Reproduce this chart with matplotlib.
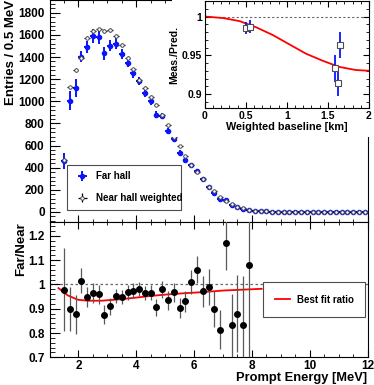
import numpy as np
import matplotlib
matplotlib.use('Agg')
import matplotlib.pyplot as plt
from matplotlib.patches import Rectangle
from matplotlib.ticker import MultipleLocator

plt.rcParams['font.family'] = ['Liberation Sans', 'DejaVu Sans']
plt.rcParams['font.weight'] = 'bold'
plt.rcParams['axes.labelweight'] = 'bold'
plt.rcParams['font.size'] = 8.5

# upper panel: prompt energy spectra (bin centres, MeV)
energy = np.round(np.arange(1.5, 12.0, 0.2), 2)
far = [459, 1005, 1122, 1403, 1493, 1590, 1578, 1433, 1500, 1518,
       1427, 1349, 1252, 1180, 1075, 1000, 878, 866, 730, 660,
       537, 470, 422, 372, 295, 226, 175, 118, 104, 63,
       42, 27, 16, 9, 7, 5, 4, 4, 3, 3,
       3, 4, 3, 3, 3, 3, 3, 3, 3, 3, 3, 3, 3]
far_err = [75, 85, 80, 50, 55, 60, 65, 60, 50, 50,
           45, 40, 38, 35, 35, 33, 30, 30, 28, 27,
           25, 23, 22, 20, 18, 16, 14, 12, 11, 9,
           8, 6, 5, 4, 4, 3, 3, 3, 3, 3,
           3, 3, 3, 3, 3, 3, 3, 3, 3, 3, 3, 3, 3]
near = [470, 1125, 1282, 1394, 1575, 1638, 1650, 1635, 1644, 1593,
        1508, 1394, 1291, 1192, 1124, 1041, 968, 875, 782, 675,
        597, 505, 423, 360, 300, 228, 188, 136, 96, 70,
        46, 32, 15, 9, 7, 5, 4, 4, 3, 3,
        3, 4, 3, 3, 3, 3, 3, 3, 3, 3, 3, 3, 3]
near_err = [10, 14, 15, 15, 16, 16, 16, 16, 16, 16,
            15, 15, 14, 14, 13, 13, 12, 12, 11, 10,
            10, 9, 8, 8, 7, 6, 6, 5, 4, 4,
            3, 3, 2, 2, 2, 1, 1, 1, 1, 1,
            1, 1, 1, 1, 1, 1, 1, 1, 1, 1, 1, 1, 1]

# lower panel: far / near ratio
ratio_e = np.round(np.arange(1.5, 8.0, 0.2), 2)
ratio = [0.978, 0.898, 0.877, 1.016, 0.948, 0.964, 0.959, 0.876, 0.910, 0.952,
         0.948, 0.968, 0.974, 0.982, 0.964, 0.966, 0.907, 0.981, 0.934, 0.967,
         0.903, 0.930, 1.009, 1.061, 0.971, 0.989, 0.900, 0.814, 1.170, 0.831,
         0.880, 0.835, 1.080]
ratio_err = [0.17, 0.09, 0.08, 0.05, 0.04, 0.04, 0.04, 0.04, 0.035, 0.03,
             0.03, 0.03, 0.03, 0.03, 0.03, 0.03, 0.035, 0.035, 0.04, 0.04,
             0.04, 0.045, 0.05, 0.055, 0.065, 0.075, 0.075, 0.08, 0.11, 0.13,
             0.16, 0.2, 0.4]
fit_e = [1.31, 1.63, 1.98, 2.32, 2.79, 3.36, 3.94, 4.52, 5.10, 5.68, 6.25, 7.02, 8.34]
fit_r = [0.985, 0.955, 0.937, 0.933, 0.933, 0.938, 0.945, 0.953, 0.959, 0.964, 0.968, 0.975, 0.982]

# inset: measured / predicted vs baseline
base = [0.50, 0.556, 1.585, 1.617, 1.649]
meas = [0.985, 0.987, 0.933, 0.914, 0.963]
meas_err = [0.008, 0.008, 0.017, 0.017, 0.017]
curve_l = [0.0, 0.226, 0.427, 0.629, 0.831, 1.032, 1.234, 1.435, 1.637, 1.839, 2.0]
curve_v = [1.0, 0.998, 0.994, 0.986, 0.976, 0.964, 0.952, 0.943, 0.935, 0.931, 0.930]

blue = '#0a14ff'
fig = plt.figure(figsize=(3.74, 3.85), dpi=100)
ax1 = fig.add_axes([0.1324, 0.4221, 0.8503, 0.5779], zorder=0)
ax2 = fig.add_axes([0.1324, 0.0719, 0.8503, 0.3502], zorder=0)
axin = fig.add_axes([0.5473, 0.7195, 0.4393, 0.2779], zorder=2)
fig.add_artist(Rectangle((0.46, 0.644), 0.54, 0.356, transform=fig.transFigure,
                         facecolor='white', edgecolor='none', zorder=1))

# upper
ax1.errorbar(energy, far, yerr=far_err, xerr=0.1, fmt='o', color=blue, ms=3,
             elinewidth=1.4, capsize=0, label='Far hall', zorder=3)
ax1.errorbar(energy, near, yerr=near_err, xerr=0.1, fmt='o', color='black', ms=2.5,
             mfc='white', mec='0.3', mew=0.7, elinewidth=0.9, capsize=0,
             label='Near hall weighted', zorder=4)
ax1.set_xlim(1.0, 12)
ax1.set_ylim(-95, 1915)
ax1.yaxis.set_major_locator(MultipleLocator(200))
ax1.yaxis.set_minor_locator(MultipleLocator(40))
ax1.xaxis.set_major_locator(MultipleLocator(2))
ax1.xaxis.set_minor_locator(MultipleLocator(0.5))
ax1.tick_params(axis='x', labelbottom=False)
ax1.set_ylabel('Entries / 0.5 MeV', loc='top', fontsize=9.5, labelpad=1)
leg1 = ax1.legend(loc='upper left', bbox_to_anchor=(66.7 / 374, 1 - 164.5 / 385, 114 / 374, 0),
                  bbox_transform=fig.transFigure, mode='expand', fancybox=False,
                  edgecolor='0.3', framealpha=1, borderpad=0.7, labelspacing=1.2,
                  handlelength=1.85, handletextpad=0.5, borderaxespad=0, fontsize=7)
leg1.get_frame().set_linewidth(0.8)

# lower
ax2.axhline(1.0, color='0.4', lw=0.9, ls=(0, (2, 2)), zorder=1)
ax2.errorbar(ratio_e, ratio, yerr=ratio_err, fmt='o', color='black', ms=4,
             ecolor='0.35', elinewidth=0.9, capsize=0, zorder=3)
ax2.plot(fit_e, fit_r, color='red', lw=1.3, label='Best fit ratio', zorder=2)
ax2.set_xlim(1.0, 12)
ax2.set_ylim(0.7, 1.255)
ax2.xaxis.set_major_locator(MultipleLocator(2))
ax2.xaxis.set_minor_locator(MultipleLocator(0.5))
ax2.yaxis.set_minor_locator(MultipleLocator(0.02))
ax2.set_yticks([0.7, 0.8, 0.9, 1.0, 1.1, 1.2], ['0.7', '0.8', '0.9', '1', '1.1', '1.2'])
ax2.set_xlabel('Prompt Energy [MeV]', loc='right', fontsize=9.3, labelpad=0)
ax2.set_ylabel('Far/Near', loc='top', fontsize=9.5, labelpad=1)
leg2 = ax2.legend(loc='upper left', bbox_to_anchor=(262.7 / 374, 1 - 282 / 385, 102.5 / 374, 0),
                  bbox_transform=fig.transFigure, mode='expand', fancybox=False,
                  edgecolor='0.3', framealpha=1, borderpad=1.3,
                  handlelength=1.5, handletextpad=0.7, borderaxespad=0, fontsize=7)
leg2.get_frame().set_linewidth(0.8)

for ax in (ax1, ax2):
    ax.tick_params(which='both', direction='in', top=True, right=False)
    ax.tick_params(axis='y', which='major', length=7)
    ax.tick_params(axis='y', which='minor', length=3.5)
    ax.tick_params(axis='x', which='major', length=5, pad=2)
    ax.tick_params(axis='x', which='minor', length=2.5)
    for s in ax.spines.values():
        s.set_linewidth(0.8)

# inset
axin.axhline(1.0, color='0.4', lw=0.8, ls=(0, (2, 2)), zorder=1)
axin.plot(curve_l, curve_v, color='red', lw=1.3, zorder=2)
axin.errorbar(base, meas, yerr=meas_err, fmt='s', ms=4, mfc='white', mec='0.3',
              mew=0.8, ecolor=blue, elinewidth=1.3, capsize=0, zorder=3)
axin.set_xlim(0, 2)
axin.set_ylim(0.882, 1.02)
axin.xaxis.set_major_locator(MultipleLocator(0.5))
axin.xaxis.set_minor_locator(MultipleLocator(0.1))
axin.set_yticks([0.9, 0.95, 1.0], ['0.9', '0.95', '1'])
axin.yaxis.set_minor_locator(MultipleLocator(0.01))
axin.xaxis.set_major_formatter(plt.FuncFormatter(lambda v, p: '%g' % v))
axin.tick_params(which='both', direction='in', top=True, right=True, pad=2, labelsize=7.5)
axin.tick_params(which='major', length=4)
axin.tick_params(which='minor', length=2)
axin.set_xlabel('Weighted baseline [km]', fontsize=7.8, labelpad=1)
axin.set_ylabel('Meas./Pred.', fontsize=7.5, labelpad=2)
for s in axin.spines.values():
    s.set_linewidth(0.8)

fig.savefig('out.png', dpi=100)
